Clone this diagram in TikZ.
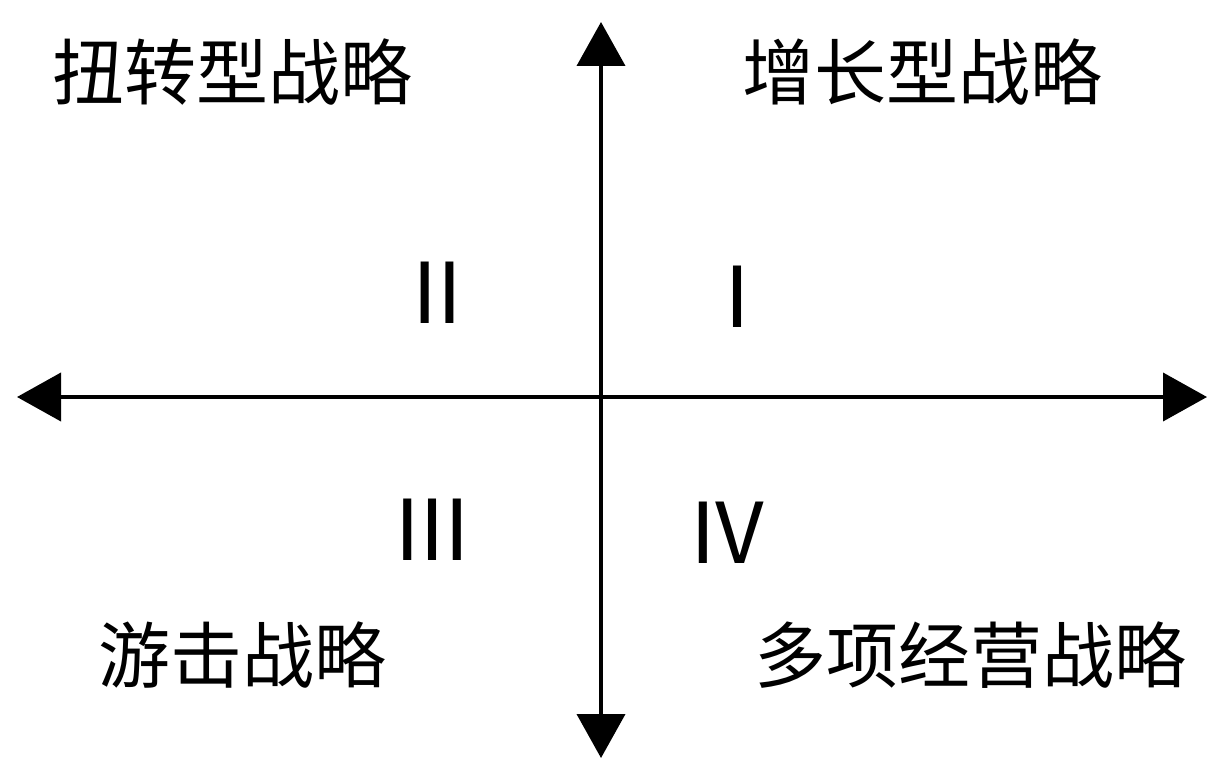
\documentclass[tikz,border=0pt]{standalone}
\usepackage{fontspec}
\usepackage{tikz}
\usetikzlibrary{positioning,arrows.meta}
\newfontfamily\cjk{Noto Sans CJK SC}

\begin{document}
\begin{tikzpicture}[
			x=1pt, y=-1pt,
			axis/.style = {line width=4pt,
				{Triangle[length=44pt,width=48pt]}-{Triangle[length=44pt,width=48pt]}},
			strategy/.style = {font=\cjk\fontsize{72}{72}\selectfont, inner sep=0pt},
			quadrant/.style = {font=\cjk\fontsize{84}{84}\selectfont, inner sep=0pt}]
			\fill[white] (0,0) rectangle (1210,765);
			\useasboundingbox (0,0) rectangle (1210,765);
			% axes
			\coordinate (west) at (17,397);
			\coordinate (east) at (1207,397);
			\coordinate (north) at (601,22);
			\coordinate (south) at (601,758);
			\draw[axis] (west) -- (east);
			\draw[axis] (south) -- (north);
			% strategies
			\node[strategy] (turn) at (232,72) {扭转型战略};
			\node[strategy] (grow) at (922,72) {增长型战略};
			\node[strategy] (guerrilla) at (242,655) {游击战略};
			\node[strategy] (multi) at (970,655) {多项经营战略};
			% quadrants
			\node[quadrant] (q2) at (437,293) {Ⅱ};
			\node[quadrant] (q1) at (737,297) {Ⅰ};
			\node[quadrant] (q3) at (432,530) {Ⅲ};
			\node[quadrant] (q4) at (727,533) {Ⅳ};
			\end{tikzpicture}
\end{document}
